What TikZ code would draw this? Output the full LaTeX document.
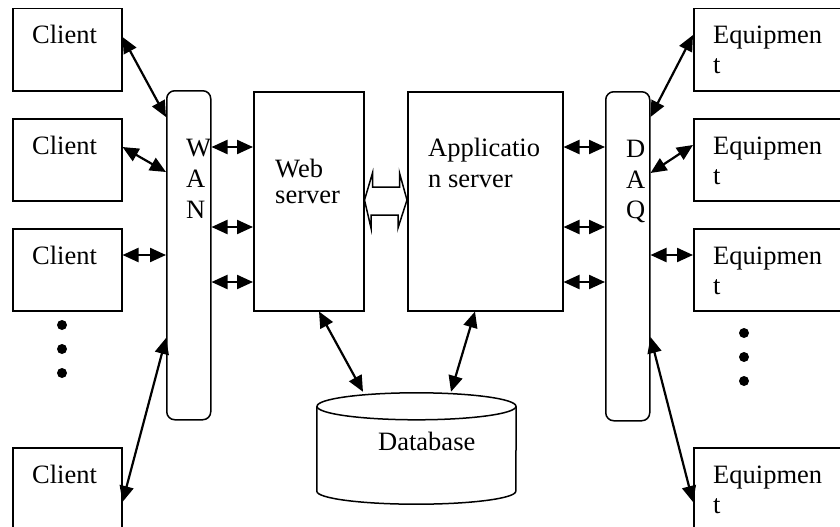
\documentclass[tikz,border=0pt]{standalone}
\usepackage{fontspec}
\setmainfont{Liberation Serif}
\usetikzlibrary{arrows.meta,calc}

\tikzset{
  txt/.style={font=\fontsize{26.5pt}{31pt}\selectfont, inner sep=0pt, anchor=base west},
  block/.style={draw, line width=1.5pt, rectangle, anchor=north west, inner sep=0pt},
  termbox/.style={block, minimum width=109pt, minimum height=82pt},
  equipbox/.style={block, minimum width=160pt, minimum height=82pt},
  busbar/.style={block, rounded corners=8pt, minimum width=44pt, minimum height=329pt},
  server/.style={block, minimum height=219pt},
  link/.style={line width=2.2pt, {Triangle[length=16pt,width=14pt]}-{Triangle[length=16pt,width=14pt]}},
  dotmark/.style={circle, fill, inner sep=0pt, minimum size=10pt},
  hollow/.style={draw, line width=1.5pt, fill=white}
}

\begin{document}
\begin{tikzpicture}[x=1pt, y=-1pt]
\useasboundingbox (0,0) rectangle (840,527);

% ---- clients on the left ----
\node[termbox] (c1) at (12,8) {};
\node[termbox] (c2) at (12,118) {};
\node[termbox] (c3) at (12,228) {};
\node[termbox] (c4) at (12,447) {};
\foreach \c in {c1,c2,c3,c4}
  \node[txt] (\c-t) at ($(\c.north west)+(20,36)$) {Client};

\node[dotmark] (ld1) at (62,325) {};
\node[dotmark] (ld2) at (62,349) {};
\node[dotmark] (ld3) at (62,373) {};

% ---- WAN bus ----
\node[busbar] (wan) at (166,90) {};
\node[txt] (wan-w) at (186,156) {W};
\node[txt] (wan-a) at (186,187) {A};
\node[txt] (wan-n) at (186,218) {N};

% ---- servers ----
\node[server, minimum width=110pt] (web) at (253,91) {};
\node[txt] (web-1) at (275,177) {Web};
\node[txt] (web-2) at (275,203) {server};

\node[server, minimum width=155pt] (app) at (407,91) {};
\node[txt] (app-1) at (428,156) {Applicatio};
\node[txt] (app-2) at (428,187) {n server};

% ---- DAQ bus ----
\node[busbar] (daq) at (605,91) {};
\node[txt] (daq-d) at (626,157) {D};
\node[txt] (daq-a) at (626,188) {A};
\node[txt] (daq-q) at (626,218) {Q};

% ---- equipment on the right ----
\node[equipbox] (e1) at (693,8) {};
\node[equipbox] (e2) at (693,118) {};
\node[equipbox] (e3) at (693,228) {};
\node[equipbox] (e4) at (693,447) {};
\foreach \e in {e1,e2,e3,e4}{
  \node[txt] (\e-t1) at ($(\e.north west)+(20,36)$) {Equipmen};
  \node[txt] (\e-t2) at ($(\e.north west)+(20,66)$) {t};
}

\node[dotmark] (rd1) at (744,333) {};
\node[dotmark] (rd2) at (744,357) {};
\node[dotmark] (rd3) at (744,381) {};

% ---- database cylinder ----
\node[inner sep=0pt, minimum width=199pt, minimum height=111pt] (db) at (416.5,448.5) {};
\coordinate (dbtop) at ($(db.north)+(0,13.5)$);
\coordinate (dbbot) at ($(db.south)+(0,-13)$);
\draw[line width=1.5pt] (db.west |- dbtop) -- (db.west |- dbbot)
  arc[start angle=180, end angle=0, x radius=99.5, y radius=13]
  -- (db.east |- dbtop);
\draw[line width=1.5pt] (dbtop) ellipse[x radius=99.5, y radius=13.5];
\node[txt] (db-t) at ($(db.north)+(-38.5,58)$) {Database};

% ---- links: clients to WAN ----
\draw[link] ($(c1.north east)+(0,29)$) -- ($(wan.north west)+(0,27)$);
\draw[link] ($(c2.north east)+(0,29)$) -- ($(wan.north west)+(0,82)$);
\coordinate (h3) at ($(c3.north east)+(0,27)$);
\draw[link] (h3) -- (wan.west |- h3);
\draw[link] ($(c4.north east)+(0,55)$) -- ($(wan.north west)+(0,248)$);

% ---- links: WAN to web server, application server to DAQ ----
\foreach \dy [count=\i] in {56,136,191}{
  \coordinate (wr\i) at ($(web.north west)+(0,\dy)$);
  \draw[link] (wan.east |- wr\i) -- (wr\i);
  \coordinate (ar\i) at ($(app.north east)+(0,\dy)$);
  \draw[link] (ar\i) -- (daq.west |- ar\i);
}

% ---- links: DAQ to equipment ----
\draw[link] ($(daq.north east)+(0,26)$) -- ($(e1.north west)+(0,27)$);
\draw[link] ($(daq.north east)+(0,82)$) -- ($(e2.north west)+(0,27)$);
\coordinate (q3) at ($(e3.north west)+(0,27)$);
\draw[link] (daq.east |- q3) -- (q3);
\draw[link] ($(daq.north east)+(0,246)$) -- ($(e4.north west)+(0,55)$);

% ---- links: servers to database ----
\draw[link] ($(web.south west)+(66,0)$) -- ($(db.north)+(-53.5,-1)$);
\draw[link] ($(app.south west)+(68,0)$) -- ($(db.north)+(34.5,-1)$);

% ---- wide hollow double arrow between the servers ----
\coordinate (ha) at ($(web.north east)+(0,109)$);
\draw[hollow, line join=miter] (ha) -- ++(8,-27) -- ++(0,14) -- ++(27,0) -- ++(0,-14)
  -- ($(app.west |- ha)$) -- ++(-9,28) -- ++(0,-13) -- ++(-27,0) -- ++(0,13) -- cycle;
\end{tikzpicture}
\end{document}
